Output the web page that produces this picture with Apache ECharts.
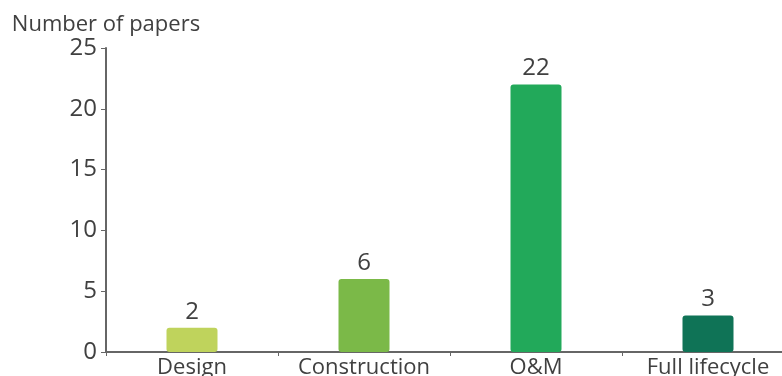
<!DOCTYPE html>
<html>
<head>
<meta charset="utf-8">
<script src="https://cdn.jsdelivr.net/npm/echarts@6/dist/echarts.min.js"></script>
<style>
  html, body { margin: 0; padding: 0; background: #fff; }
  #chart { width: 782px; height: 376px; }
</style>
</head>
<body>
<div id="chart"></div>
<script>
// Papers per project phase
const phases = ['Design', 'Construction', 'O&M', 'Full lifecycle'];
const paperCounts = [2, 6, 22, 3];
const barColors = ['#bfd35c', '#7bb948', '#22a95a', '#0f7356'];
const yTicks = { min: 0, max: 25, interval: 5 };

const font = '"Open Sans", "Noto Sans", sans-serif';
const textColor = '#404040';

const chart = echarts.init(document.getElementById('chart'));
chart.setOption({
  animation: false,
  grid: { left: 106, top: 48, width: 688, height: 304, outerBoundsMode: 'none', containLabel: false },
  xAxis: {
    type: 'category',
    data: phases,
    axisLine: { lineStyle: { color: '#666', width: 2 } },
    axisTick: { show: true, length: 4, lineStyle: { color: '#666' } },
    axisLabel: { color: textColor, fontFamily: font, fontSize: 22, margin: 5 }
  },
  yAxis: {
    type: 'value',
    min: yTicks.min,
    max: yTicks.max,
    interval: yTicks.interval,
    name: 'Number of papers',
    nameLocation: 'end',
    nameGap: 11,
    nameTextStyle: { color: textColor, fontFamily: font, fontSize: 22, align: 'center' },
    axisLine: { show: true, lineStyle: { color: '#666', width: 2 } },
    axisTick: { show: true, length: 5, lineStyle: { color: '#666' } },
    axisLabel: { color: textColor, fontFamily: font, fontSize: 24, margin: 9 },
    splitLine: { show: false }
  },
  series: [{
    type: 'bar',
    barWidth: 51,
    data: paperCounts.map((v, i) => ({ value: v, itemStyle: { color: barColors[i] } })),
    itemStyle: { borderRadius: 3 },
    label: {
      show: true,
      position: 'top',
      distance: 4,
      color: textColor,
      fontFamily: font,
      fontSize: 24
    }
  }]
});
</script>
</body>
</html>
